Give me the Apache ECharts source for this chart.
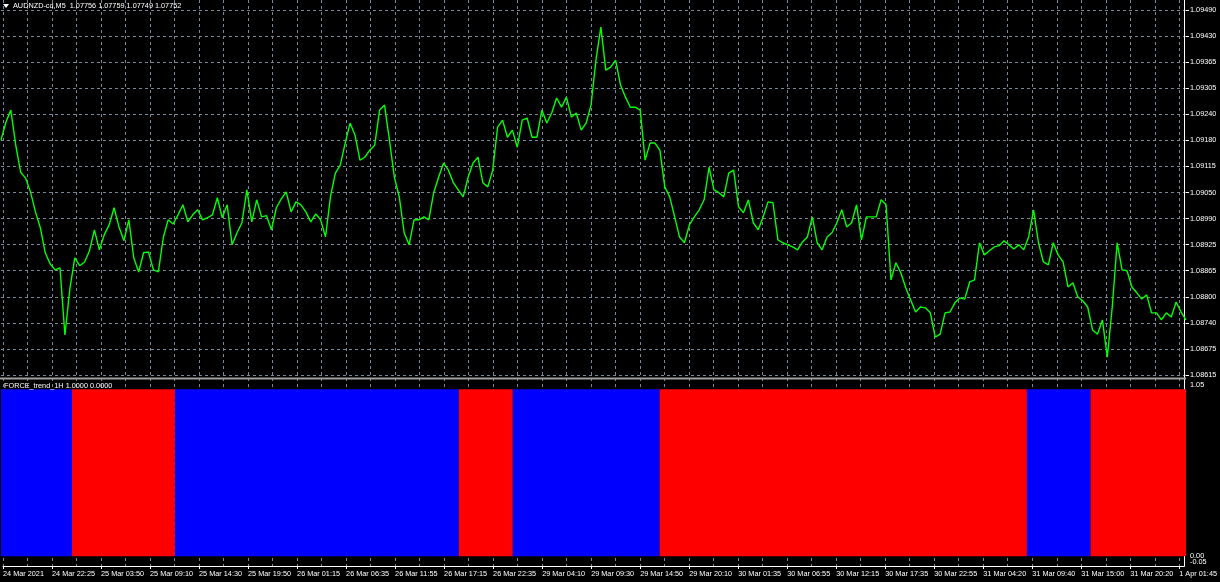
<!DOCTYPE html>
<html><head><meta charset="utf-8">
<script src="https://cdn.jsdelivr.net/npm/echarts@6/dist/echarts.min.js"></script>
<style>html,body{margin:0;padding:0;background:#000;}#c{width:1220px;height:582px;}</style>
</head><body><div id="c"></div>
<script>
// ---- data ----
const timeLabels = ['24 Mar 2021','24 Mar 22:25','25 Mar 03:50','25 Mar 09:10','25 Mar 14:30','25 Mar 19:50','26 Mar 01:15','26 Mar 06:35','26 Mar 11:55','26 Mar 17:15','26 Mar 22:35','29 Mar 04:10','29 Mar 09:30','29 Mar 14:50','29 Mar 20:10','30 Mar 01:35','30 Mar 06:55','30 Mar 12:15','30 Mar 17:35','30 Mar 22:55','31 Mar 04:20','31 Mar 09:40','31 Mar 15:00','31 Mar 20:20','1 Apr 01:45'];
const priceTickLabels = ['1.08615','1.08675','1.08740','1.08800','1.08865','1.08925','1.08990','1.09050','1.09115','1.09180','1.09240','1.09305','1.09365','1.09430','1.09490'];
const priceMin = 1.08615, priceMax = 1.09490, priceStep = 0.000625;
const priceData = [
1.09178,1.09221,1.09250,1.09166,1.09101,1.09087,1.09054,1.09006,1.08968,1.08908,
1.08881,1.08867,1.08872,1.08711,1.08821,1.08896,1.08877,1.08886,1.08913,1.08963,
1.08915,1.08951,1.08975,1.09016,1.08970,1.08937,1.08987,1.08896,1.08862,1.08908,
1.08910,1.08867,1.08862,1.08944,1.08987,1.08977,1.08999,1.09023,1.08982,1.08999,
1.09011,1.08987,1.08992,1.08999,1.09040,1.08992,1.09023,1.08927,1.08956,1.08980,
1.09059,1.08982,1.09035,1.08994,1.08997,1.08963,1.09016,1.09037,1.09054,1.09006,
1.09030,1.09023,1.09006,1.08982,1.09001,1.08987,1.08946,1.09042,1.09099,1.09118,
1.09171,1.09219,1.09190,1.09130,1.09137,1.09154,1.09166,1.09250,1.09262,1.09178,
1.09089,1.09042,1.08956,1.08927,1.08987,1.08987,1.08994,1.08987,1.09052,1.09089,
1.09123,1.09106,1.09076,1.09059,1.09042,1.09089,1.09123,1.09137,1.09076,1.09066,
1.09106,1.09209,1.09226,1.09185,1.09202,1.09161,1.09226,1.09231,1.09185,1.09185,
1.09250,1.09219,1.09243,1.09279,1.09257,1.09281,1.09233,1.09243,1.09202,1.09219,
1.09262,1.09370,1.09449,1.09346,1.09353,1.09370,1.09310,1.09281,1.09257,1.09257,
1.09250,1.09130,1.09171,1.09171,1.09154,1.09066,1.09042,1.08994,1.08946,1.08932,
1.08975,1.08994,1.09011,1.09035,1.09113,1.09059,1.09052,1.09042,1.09099,1.09106,
1.09018,1.09004,1.09035,1.08980,1.08963,1.08994,1.09030,1.09028,1.08939,1.08932,
1.08927,1.08922,1.08915,1.08934,1.08946,1.08994,1.08932,1.08915,1.08946,1.08956,
1.08980,1.09011,1.08970,1.08980,1.09023,1.08939,1.08994,1.08994,1.08994,1.09035,
1.09023,1.08843,1.08884,1.08860,1.08824,1.08795,1.08766,1.08778,1.08776,1.08764,
1.08706,1.08713,1.08764,1.08766,1.08788,1.08800,1.08797,1.08838,1.08843,1.08932,
1.08903,1.08913,1.08922,1.08925,1.08937,1.08927,1.08917,1.08927,1.08915,1.08946,
1.09011,1.08932,1.08886,1.08879,1.08932,1.08903,1.08886,1.08826,1.08836,1.08802,
1.08793,1.08778,1.08723,1.08713,1.08747,1.08658,1.08778,1.08932,1.08867,1.08865,
1.08826,1.08812,1.08797,1.08807,1.08764,1.08764,1.08747,1.08764,1.08754,1.08790,
1.08766,1.08747
];
const trendRuns = [29, 42, 116, 22, 60, 150, 26, 39];
const trendDir = ['up','down','up','down','up','down','up','down'];
const indTickLabels = ['-0.05','0.00','1.05'];
const titleText = 'AUDNZD-cd,M5  1.07756 1.07759 1.07749 1.07752';
const indicatorText = 'FORCE_trend_1H 1.0000 0.0000';

// ---- build ----
const FONT = '"Liberation Sans"';
const FS = 7.3;
const GRIDC = '#778899';
const cats = priceData.map((_, i) => i);
const trendSeq = [];
trendRuns.forEach((n, k) => { for (let j = 0; j < n; j++) trendSeq.push(trendDir[k]); });
trendSeq.push(trendSeq[trendSeq.length - 1]);           // closing edge of the last block
const indCats = trendSeq.map((_, i) => i);
const upData = trendSeq.map(d => d === 'up' ? 1 : 0);
const downData = trendSeq.map(d => d === 'down' ? 1 : 0);
const near = (a, b) => Math.abs(a - b) < 1e-6;

const chart = echarts.init(document.getElementById('c'), null, {renderer: 'canvas'});
chart.setOption({
  backgroundColor: '#000',
  animation: false,
  textStyle: {fontFamily: FONT},
  grid: [
    {left: 1, width: 1185, top: 10, height: 365},
    {left: 1, width: 1185, top: 381, height: 183.5},
    {left: 1, width: 1185, top: 0, height: 566},
    {left: 1, width: 1185, top: 381, height: 183.5}
  ],
  xAxis: [
    {gridIndex: 0, type: 'category', data: cats, boundaryGap: false, show: false},
    {gridIndex: 1, type: 'category', data: indCats, boundaryGap: false, show: false},
    {gridIndex: 2, type: 'category', data: cats, boundaryGap: false, position: 'bottom',
      axisLine: {show: true, lineStyle: {color: '#ffffff', width: 1}},
      axisTick: {show: true, interval: 9, length: 3, lineStyle: {color: '#ffffff'}},
      axisLabel: {show: true, interval: 9, align: 'left', margin: 4, color: '#ffffff', fontSize: FS, fontFamily: FONT,
        formatter: (v, i) => (i % 10 === 0 && timeLabels[i / 10]) ? timeLabels[i / 10] : ''},
      splitLine: {show: true, interval: 4, lineStyle: {color: GRIDC, type: [3, 3], width: 1}}
    },
    {gridIndex: 3, type: 'category', data: indCats, boundaryGap: false, show: false}
  ],
  yAxis: [
    {gridIndex: 0, type: 'value', position: 'right', min: priceMin, max: priceMax, interval: priceStep,
      axisLine: {show: false},
      axisTick: {show: true, length: 3, lineStyle: {color: '#ffffff'}},
      axisLabel: {color: '#ffffff', margin: 4, fontSize: FS, fontFamily: FONT, showMinLabel: true, showMaxLabel: true,
        formatter: v => priceTickLabels[Math.round((v - priceMin) / priceStep)] || ''},
      splitLine: {show: true, lineStyle: {color: GRIDC, type: [3, 3], width: 1}}
    },
    {gridIndex: 1, type: 'value', position: 'right', min: -0.05, max: 1.05, interval: 0.05,
      axisLine: {show: false}, axisTick: {show: false}, splitLine: {show: false},
      axisLabel: {color: '#ffffff', margin: 4, fontSize: FS, fontFamily: FONT, showMinLabel: false, showMaxLabel: true,
        formatter: v => {
          if (near(v, 1.05)) return '{t|' + indTickLabels[2] + '}';
          if (near(v, 0)) return indTickLabels[1];
          return '';
        },
        rich: {t: {color: '#ffffff', fontSize: FS, fontFamily: FONT, padding: [8, 0, 0, 0]}}
      }
    },
    {gridIndex: 2, type: 'value', position: 'right', min: 0, max: 1,
      axisLine: {show: true, lineStyle: {color: '#ffffff', width: 1}},
      axisTick: {show: false}, axisLabel: {show: false}, splitLine: {show: false}
    },
    {gridIndex: 3, type: 'value', position: 'right', min: -0.05, max: 1.05, interval: 1.1,
      axisLine: {show: false}, axisTick: {show: false}, splitLine: {show: false},
      axisLabel: {color: '#ffffff', margin: 4, fontSize: FS, fontFamily: FONT, showMinLabel: true, showMaxLabel: false,
        formatter: v => near(v, -0.05) ? '{b|' + indTickLabels[0] + '}' : '',
        rich: {b: {color: '#ffffff', fontSize: FS, fontFamily: FONT, padding: [0, 0, 6, 0]}}
      }
    }
  ],
  series: [
    {name: 'AUDNZD-cd,M5', type: 'line', xAxisIndex: 0, yAxisIndex: 0, data: priceData,
      symbol: 'none', lineStyle: {color: '#00ff00', width: 1.4}, z: 5},
    {name: 'up', type: 'line', step: 'end', xAxisIndex: 1, yAxisIndex: 1, data: upData,
      symbol: 'none', lineStyle: {width: 0}, areaStyle: {color: '#0000ff', opacity: 1}},
    {name: 'down', type: 'line', step: 'end', xAxisIndex: 1, yAxisIndex: 1, data: downData,
      symbol: 'none', lineStyle: {width: 0}, areaStyle: {color: '#ff0000', opacity: 1}}
  ],
  graphic: [
    {type: 'rect', shape: {x: 0, y: 377.5, width: 1186, height: 2}, style: {fill: '#a0a0a0'}, z: 10},
    {type: 'polygon', shape: {points: [[3, 4], [9, 4], [6, 8]]}, style: {fill: '#ffffff'}, z: 10},
    {type: 'text', x: 13, y: 2, style: {text: titleText, fill: '#ffffff', font: FS + 'px ' + FONT}, z: 10},
    {type: 'text', x: 4, y: 382, style: {text: indicatorText, fill: '#ffffff', font: FS + 'px ' + FONT}, z: 10}
  ]
});
</script>
</body></html>
